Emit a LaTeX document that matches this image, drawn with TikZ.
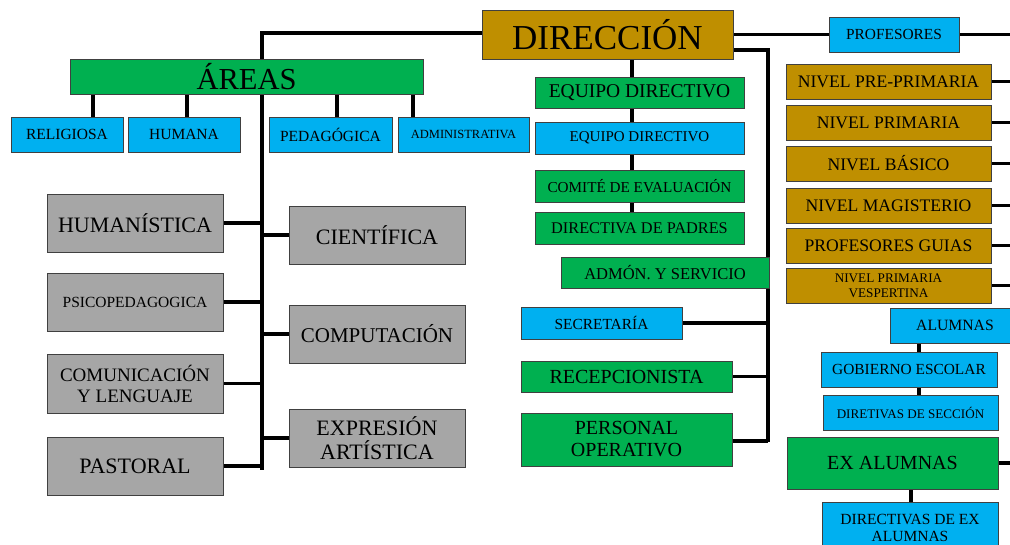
\documentclass[tikz,border=0pt]{standalone}
\usepackage{fontspec}
\setmainfont{Liberation Serif}
\usetikzlibrary{backgrounds}
\definecolor{cgold}{HTML}{BF8F00}
\definecolor{cgreen}{HTML}{00B050}
\definecolor{cblue}{HTML}{00B0F0}
\definecolor{cgray}{HTML}{A6A6A6}
\newcommand\bx[8]{\pgfmathsetmacro\mybs{#7*1.1}\node[box,fill=#6,minimum width={#4-#2},minimum height={#5-#3},font={\fontsize{#7}{\mybs}\selectfont}] (#1) at ({(#2+#4)/2},{(#3+#5)/2}) {#8};}
\begin{document}
\begin{tikzpicture}[x=1pt,y=-1pt,
  box/.style={draw=black!75,line width=0.8pt,inner sep=0pt,align=center,text=black},
  conn/.style={draw=black,line width=3.6pt}]
\useasboundingbox (0,0) rectangle (1010,544);
% boxes
\bx{dir}{482}{10}{733}{59}{cgold}{35}{DIRECCIÓN}
\bx{areas}{70}{59}{423}{94}{cgreen}{30.5}{ÁREAS}
\bx{rel}{11}{117}{123}{152}{cblue}{15.5}{RELIGIOSA}
\bx{hum}{128}{117}{240}{152}{cblue}{15.5}{HUMANA}
\bx{ped}{269}{117}{392}{152}{cblue}{15.5}{PEDAGÓGICA}
\bx{adm}{398}{117}{529}{152}{cblue}{12.5}{ADMINISTRATIVA}
\bx{humst}{47}{194}{223}{252}{cgray}{22}{HUMANÍSTICA}
\bx{psi}{47}{273}{223}{331}{cgray}{15.5}{PSICOPEDAGOGICA}
\bx{com}{47}{354}{223}{413}{cgray}{19}{COMUNICACIÓN\\Y LENGUAJE}
\bx{pas}{47}{437}{223}{495}{cgray}{22}{PASTORAL}
\bx{cie}{289}{206}{465}{264}{cgray}{22}{CIENTÍFICA}
\bx{cmp}{289}{305}{465}{363}{cgray}{21}{COMPUTACIÓN}
\bx{exp}{289}{409}{465}{467}{cgray}{22}{EXPRESIÓN\\ARTÍSTICA}
\bx{eqa}{535}{77}{744}{108}{cgreen}{19.5}{EQUIPO DIRECTIVO}
\bx{eqb}{535}{122}{744}{154}{cblue}{15}{EQUIPO DIRECTIVO}
\bx{cmt}{535}{170}{744}{202}{cgreen}{15.2}{COMITÉ DE EVALUACIÓN}
\bx{pad}{535}{212}{744}{244}{cgreen}{16.3}{DIRECTIVA DE PADRES}
\bx{adms}{561}{257}{769}{288}{cgreen}{16.5}{ADMÓN. Y SERVICIO}
\bx{secr}{521}{307}{682}{339}{cblue}{15.4}{SECRETARÍA}
\bx{rec}{521}{361}{732}{392}{cgreen}{20}{RECEPCIONISTA}
\bx{per}{521}{413}{732}{466}{cgreen}{20}{PERSONAL\\OPERATIVO}
\bx{prof}{829}{17}{959}{52}{cblue}{15.4}{PROFESORES}
\bx{na}{786}{64}{991}{99}{cgold}{17.6}{NIVEL PRE-PRIMARIA}
\bx{nb}{786}{105}{991}{140}{cgold}{17.6}{NIVEL PRIMARIA}
\bx{nc}{786}{146}{991}{181}{cgold}{17.6}{NIVEL BÁSICO}
\bx{nd}{786}{188}{991}{223}{cgold}{17.6}{NIVEL MAGISTERIO}
\bx{ne}{786}{228}{991}{263}{cgold}{17.6}{PROFESORES GUIAS}
\bx{nf}{786}{268}{991}{303}{cgold}{13.2}{NIVEL PRIMARIA\\VESPERTINA}
\bx{alu}{890}{308}{1020}{343}{cblue}{15.7}{ALUMNAS}
\bx{gob}{821}{352}{997}{387}{cblue}{15.4}{GOBIERNO ESCOLAR}
\bx{dsec}{823}{395}{998}{430}{cblue}{13.1}{DIRETIVAS DE SECCIÓN}
\bx{exa}{787}{437}{998}{489}{cgreen}{20}{EX ALUMNAS}
\bx{dex}{822}{502}{998}{554}{cblue}{15.5}{DIRECTIVAS DE EX\\ALUMNAS}
% coordinates
\coordinate (trunk) at (262,470);
\coordinate (vr) at (768,442);
\coordinate (edge) at (1015,0);
% connectors
\begin{scope}[on background layer]
\draw[conn] ([yshift=1.5pt]dir.west) -| (trunk);
\draw[conn] (areas.south -| 93,0) -- (rel.north -| 93,0);
\draw[conn] (areas.south -| 187,0) -- (hum.north -| 187,0);
\draw[conn] (areas.south -| 337,0) -- (ped.north -| 337,0);
\draw[conn] (areas.south -| 413,0) -- (adm.north -| 413,0);
\foreach \n in {humst,psi,com,pas} {\draw[conn] (\n.east) -- (\n.east -| trunk);}
\foreach \n in {cie,cmp,exp} {\draw[conn] (\n.west) -- (\n.west -| trunk);}
\draw[conn] (dir.south -| 632,0) -- (pad.north -| 632,0);
\draw[conn] (dir.east) -- (prof.west);
\draw[conn] (prof.east) -- (prof.east -| edge);
\draw[conn] ([yshift=-15.5pt]dir.east) -| (vr);
\foreach \n in {secr,rec} {\draw[conn] (\n.east) -- (\n.east -| vr);}
\draw[conn] ([yshift=-1.5pt]per.east) -- ([yshift=-1.5pt]per.east -| vr);
\foreach \n in {na,nb,nc,nd,ne,nf,exa} {\draw[conn] (\n.east) -- (\n.east -| edge);}
\draw[conn] (alu.south -| 919,0) -- (dsec.north -| 919,0);
\draw[conn] (exa.south -| 911,0) -- (dex.north -| 911,0);
\end{scope}
\end{tikzpicture}
\end{document}
